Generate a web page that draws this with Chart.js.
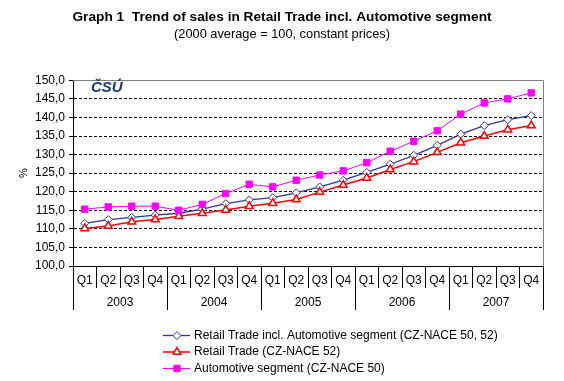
<!DOCTYPE html>
<html lang="en">
<head>
<meta charset="UTF-8">
<title>Graph 1 Trend of sales in Retail Trade</title>
<script src="https://cdn.jsdelivr.net/npm/chart.js@4"></script>
<style>
    body { margin: 0; background: #fff; }
    #wrap { width: 564px; height: 381px; }
</style>
</head>
<body>
<div id="wrap"><canvas id="salesChart"></canvas></div>
<script>
    // data
    var quarters = ['Q1','Q2','Q3','Q4','Q1','Q2','Q3','Q4','Q1','Q2','Q3','Q4','Q1','Q2','Q3','Q4','Q1','Q2','Q3','Q4'];
    var years = ['2003','2004','2005','2006','2007'];
    var retailAuto = [111.5, 112.5, 113.1, 113.7, 114.2, 115.3, 116.8, 117.8, 118.4, 119.7, 121.3, 123.1, 125.2, 127.4, 129.8, 132.5, 135.5, 137.8, 139.4, 140.5];
    var retail = [110.1, 110.8, 111.9, 112.5, 113.4, 114.2, 115.1, 116.1, 116.9, 117.9, 119.9, 121.8, 123.7, 126.0, 128.1, 130.6, 133.2, 135.0, 136.7, 137.8];
    var automotive = [115.3, 115.9, 116.1, 116.1, 115.0, 116.6, 119.5, 122.0, 121.3, 123.1, 124.5, 125.6, 127.8, 130.9, 133.6, 136.4, 140.9, 143.9, 145.0, 146.6];
    var seriesNames = [
        'Retail Trade incl. Automotive segment (CZ-NACE 50, 52)',
        'Retail Trade (CZ-NACE 52)',
        'Automotive segment (CZ-NACE 50)'
    ];

    Chart.defaults.font.family = '"Liberation Sans", Arial, sans-serif';
    Chart.defaults.font.size = 12;
    Chart.defaults.color = '#000';

    function drawMarker(ctx, ds, x, y) {
        var r = ds.pointRadius;
        ctx.beginPath();
        if (ds.pointStyle === 'rectRot') {
            ctx.moveTo(x - r, y); ctx.lineTo(x, y - r); ctx.lineTo(x + r, y); ctx.lineTo(x, y + r);
        } else if (ds.pointStyle === 'triangle') {
            ctx.moveTo(x, y - r); ctx.lineTo(x + r * 0.866, y + r / 2); ctx.lineTo(x - r * 0.866, y + r / 2);
        } else {
            var s = r * Math.SQRT1_2;
            ctx.rect(x - s, y - s, 2 * s, 2 * s);
        }
        ctx.closePath();
        ctx.fillStyle = ds.pointBackgroundColor;
        ctx.fill();
        ctx.lineWidth = ds.pointBorderWidth;
        ctx.strokeStyle = ds.borderColor;
        ctx.stroke();
    }

    // plot frame (grey top/right), logo and the legend under the axis
    var extras = {
        id: 'extras',
        afterDraw: function(chart) {
            var ctx = chart.ctx, a = chart.chartArea;
            ctx.save();
            ctx.strokeStyle = '#808080';
            ctx.lineWidth = 1;
            ctx.beginPath();
            ctx.moveTo(a.left, Math.round(a.top) + 0.5);
            ctx.lineTo(Math.round(a.right) + 0.5, Math.round(a.top) + 0.5);
            ctx.lineTo(Math.round(a.right) + 0.5, a.bottom);
            ctx.stroke();

            ctx.fillStyle = '#1c3a78';
            ctx.font = 'italic bold 15px "Liberation Sans", Arial, sans-serif';
            ctx.textBaseline = 'alphabetic';
            ctx.textAlign = 'left';
            ctx.fillText('ČSÚ', a.left + 18, a.top + 12);

            chart.data.datasets.forEach(function(ds, i) {
                var y = 335.5 + i * 16.5;
                ctx.setLineDash([]);
                ctx.strokeStyle = ds.borderColor;
                ctx.lineWidth = ds.borderWidth;
                ctx.beginPath();
                ctx.moveTo(163, y); ctx.lineTo(190, y);
                ctx.stroke();
                drawMarker(ctx, ds, 177, y);
                ctx.fillStyle = '#000';
                ctx.font = '12px "Liberation Sans", Arial, sans-serif';
                ctx.textBaseline = 'middle';
                ctx.fillText(ds.label, 194, y);
            });
            ctx.restore();
        }
    };

    var ctx = document.getElementById('salesChart').getContext('2d');
    var salesChart = new Chart(ctx, {
        type: 'line',
        data: {
            labels: quarters,
            datasets: [{
                label: seriesNames[0],
                data: retailAuto,
                borderColor: '#333399',
                borderWidth: 1.3,
                pointStyle: 'rectRot',
                pointRadius: 4,
                pointBackgroundColor: '#fff',
                pointBorderWidth: 1,
                order: 2
            }, {
                label: seriesNames[1],
                data: retail,
                borderColor: '#ff0000',
                borderWidth: 1.5,
                pointStyle: 'triangle',
                pointRadius: 4.5,
                pointBackgroundColor: '#fff',
                pointBorderWidth: 1.5,
                order: 1
            }, {
                label: seriesNames[2],
                data: automotive,
                borderColor: '#ff00ff',
                borderWidth: 1,
                pointStyle: 'rect',
                pointRadius: 4.5,
                pointBackgroundColor: '#ff00ff',
                pointBorderWidth: 1,
                order: 0
            }]
        },
        options: {
            responsive: true,
            maintainAspectRatio: false,
            animation: false,
            layout: { padding: { left: 21, right: 21, top: 0, bottom: 71 } },
            plugins: {
                legend: { display: false },
                tooltip: { enabled: false },
                title: {
                    display: true,
                    text: 'Graph 1  Trend of sales in Retail Trade incl. Automotive segment',
                    font: { size: 13.7, weight: 'bold' },
                    color: '#000',
                    padding: { top: 9, bottom: 1.5 }
                },
                subtitle: {
                    display: true,
                    text: '(2000 average = 100, constant prices)',
                    font: { size: 12.8 },
                    color: '#000',
                    padding: { top: 0, bottom: 38 }
                }
            },
            scales: {
                x: {
                    offset: true,
                    grid: { offset: true, drawOnChartArea: false, drawTicks: true, tickLength: 22, color: '#000' },
                    border: { color: '#000', width: 1 },
                    ticks: { autoSkip: false, maxRotation: 0, padding: -15, color: '#000' },
                    afterFit: function(s) { s.height = 22; }
                },
                x2: {
                    type: 'category',
                    labels: years,
                    position: 'bottom',
                    offset: true,
                    grid: { offset: true, drawOnChartArea: false, drawTicks: true, tickLength: 22, color: '#000' },
                    border: { display: false },
                    ticks: { autoSkip: false, maxRotation: 0, padding: -15, color: '#000' },
                    afterFit: function(s) { s.height = 22; }
                },
                y: {
                    min: 100,
                    max: 150,
                    ticks: {
                        stepSize: 5,
                        padding: 4,
                        color: '#000',
                        callback: function(v) { return v.toFixed(1).replace('.', ','); }
                    },
                    grid: {
                        color: function(c) { return (c.tick && (c.tick.value === 150 || c.tick.value === 100)) ? 'rgba(0,0,0,0)' : '#000'; },
                        tickColor: '#000',
                        tickLength: 4,
                        tickBorderDash: []
                    },
                    border: { color: '#000', width: 1, dash: [3, 2] },
                    title: { display: true, text: '%', font: { size: 11 }, color: '#000', padding: { top: -4, bottom: 0 } },
                    afterFit: function(s) { s.width = 52; }
                }
            }
        },
        plugins: [extras]
    });
</script>
</body>
</html>
